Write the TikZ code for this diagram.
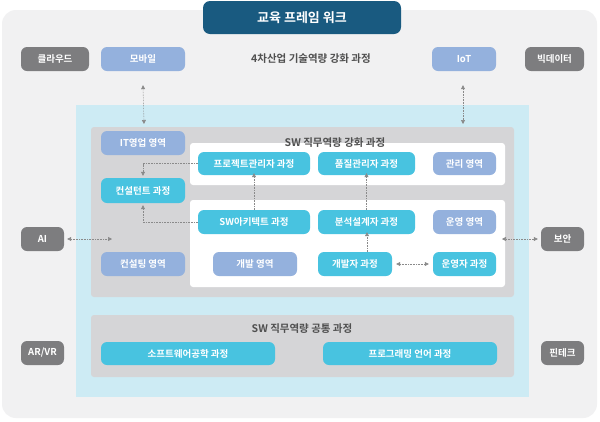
\documentclass[tikz,border=0pt]{standalone}
\usepackage{fontspec}
\setmainfont{Noto Sans CJK KR}[BoldFont={Noto Sans CJK KR Bold}]
\usetikzlibrary{arrows.meta}
\definecolor{outerbg}{HTML}{F1F1F2}
\definecolor{titlebg}{HTML}{195A80}
\definecolor{dgray}{HTML}{7D7D7F}
\definecolor{peri}{HTML}{94B1DD}
\definecolor{cyanb}{HTML}{48C3E0}
\definecolor{lblue}{HTML}{CDEBF4}
\definecolor{mgray}{HTML}{D5D5D7}
\definecolor{txt}{HTML}{505050}
\definecolor{arr}{HTML}{8A8A8A}
\begin{document}
\begin{tikzpicture}[x=1pt,y=-1pt,
 box/.style={rounded corners=6pt,text=white,font=\bfseries\fontsize{9.5}{10}\selectfont,inner sep=0pt},
 gbox/.style={box,fill=dgray},
 pbox/.style={box,fill=peri},
 cbox/.style={box,fill=cyanb},
 lbl/.style={text=txt,font=\bfseries\fontsize{10.5}{11}\selectfont},
 con/.style={draw=arr,densely dotted,-{Triangle[width=4pt,length=4pt]},line width=0.6pt},
 dcon/.style={draw=arr,densely dotted,{Triangle[width=4pt,length=4pt]}-{Triangle[width=4pt,length=4pt]},line width=0.6pt}]
\useasboundingbox (0,0) rectangle (600,421);
\fill[white] (0,0) rectangle (600,421);
\fill[outerbg,rounded corners=14pt] (2,10) rectangle (597,418);
\fill[lblue] (76,105) rectangle (529,397);
\fill[mgray,rounded corners=3pt] (91,127) rectangle (514,297);
\fill[mgray,rounded corners=3pt] (91,315) rectangle (514,377);
\fill[white,rounded corners=3pt] (190,143) rectangle (505,185);
\fill[white,rounded corners=3pt] (190,200) rectangle (505,287);
\node[box,fill=titlebg,rounded corners=7pt,minimum width=198pt,minimum height=33pt,font=\bfseries\fontsize{13}{14}\selectfont] (title) at (302,17.5) {교육 프레임 워크};
\node[gbox,minimum width=68pt,minimum height=24pt] (cloud) at (55,59) {클라우드};
\node[pbox,minimum width=84pt,minimum height=24pt] (mobile) at (143,59) {모바일};
\node[lbl] (t4) at (311,59) {4차산업 기술역량 강화 과정};
\node[pbox,minimum width=64pt,minimum height=24pt] (iot) at (464,59) {IoT};
\node[gbox,minimum width=59pt,minimum height=24pt] (bigdata) at (554.5,59) {빅데이터};
\node[lbl] (sw1) at (335,143) {SW 직무역량 강화 과정};
\node[pbox,minimum width=84pt,minimum height=24pt] (itsales) at (143,143) {IT영업 영역};
\node[cbox,minimum width=112pt,minimum height=23pt] (pm) at (254,163.5) {프로젝트관리자 과정};
\node[cbox,minimum width=97pt,minimum height=23pt] (qm) at (366.5,163.5) {품질관리자 과정};
\node[pbox,minimum width=63pt,minimum height=23pt] (mgmt) at (464.5,163.5) {관리 영역};
\node[cbox,minimum width=84pt,minimum height=25pt] (cons) at (143,190.5) {컨설턴트 과정};
\node[cbox,minimum width=112pt,minimum height=24pt] (arch) at (254,222) {SW아키텍트 과정};
\node[cbox,minimum width=97pt,minimum height=24pt] (ana) at (366.5,222) {분석설계자 과정};
\node[pbox,minimum width=63pt,minimum height=24pt] (ops) at (464.5,222) {운영 영역};
\node[pbox,minimum width=84pt,minimum height=24pt] (consa) at (143,264) {컨설팅 영역};
\node[pbox,minimum width=84pt,minimum height=24pt] (deva) at (255,264) {개발 영역};
\node[cbox,minimum width=74pt,minimum height=24pt] (dev) at (355,264) {개발자 과정};
\node[cbox,minimum width=63pt,minimum height=24pt] (opr) at (464.5,264) {운영자 과정};
\node[gbox,minimum width=43pt,minimum height=24pt] (ai) at (42.5,239) {AI};
\node[gbox,minimum width=43pt,minimum height=24pt] (sec) at (562.5,239) {보안};
\node[gbox,minimum width=43pt,minimum height=24pt] (arvr) at (42.5,353) {AR/VR};
\node[gbox,minimum width=43pt,minimum height=24pt] (fin) at (562.5,353) {핀테크};
\node[lbl] (sw2) at (302,329) {SW 직무역량 공통 과정};
\node[cbox,minimum width=174pt,minimum height=23pt] (se) at (188,353.5) {소프트웨어공학 과정};
\node[cbox,minimum width=174pt,minimum height=23pt] (pl) at (410,353.5) {프로그래밍 언어 과정};
\coordinate (mb) at (144,124);
\coordinate (ib) at (463,124);
\coordinate (aie) at (112,239);
\coordinate (see) at (502,239);
\draw[dcon] ([yshift=-14pt]mobile.south) -- (mb);
\draw[dcon] ([yshift=-14pt,xshift=-1pt]iot.south) -- (ib);
\draw[dcon] ([xshift=3pt]ai.east) -- (aie);
\draw[dcon] ([xshift=-3pt]sec.west) -- (see);
\draw[con] (pm.west) -| ([yshift=2pt]cons.north);
\draw[con] (arch.west) -| ([yshift=-2pt]cons.south);
\draw[con] (arch.north) -- ([yshift=2pt]pm.south);
\draw[con] (ana.north) -- ([yshift=2pt]qm.south);
\draw[con] ([xshift=12pt]dev.north) -- ([xshift=0.5pt,yshift=2pt]ana.south);
\draw[dcon] ([xshift=4pt]dev.east) -- ([xshift=-4pt]opr.west);
\end{tikzpicture}
\end{document}
